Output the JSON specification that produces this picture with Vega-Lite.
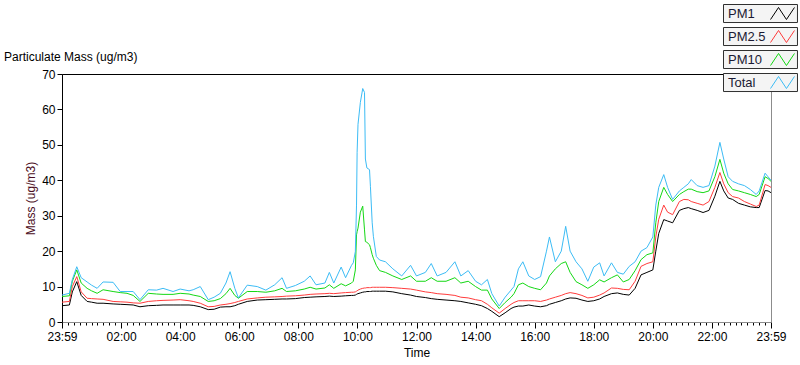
{
  "$schema": "https://vega.github.io/schema/vega-lite/v6.json",
  "autosize": "none",
  "width": 709,
  "height": 248,
  "padding": {"left": 62, "top": 74, "right": 29, "bottom": 43},
  "background": "#ffffff",
  "title": {"text": "Particulate Mass (ug/m3)", "anchor": "start", "frame": "group", "dx": -58, "offset": 0, "dy": 60, "fontSize": 12, "fontWeight": "normal", "font": "Liberation Sans", "color": "#000000"},
  "data": {"values": [
    {"t":0.0,"PM1":4.6,"PM25":5.6,"PM10":7.2,"Total":7.6},
    {"t":0.25,"PM1":4.8,"PM25":5.8,"PM10":7.4,"Total":8.1},
    {"t":0.35,"PM1":8.5,"PM25":10.0,"PM10":11.5,"Total":12.0},
    {"t":0.5,"PM1":11.4,"PM25":12.8,"PM10":14.7,"Total":15.6},
    {"t":0.65,"PM1":7.5,"PM25":8.5,"PM10":11.0,"Total":12.5},
    {"t":0.85,"PM1":5.8,"PM25":6.7,"PM10":9.5,"Total":11.3},
    {"t":1.0,"PM1":5.6,"PM25":6.6,"PM10":8.8,"Total":10.4},
    {"t":1.19,"PM1":5.3,"PM25":6.5,"PM10":8.1,"Total":9.5},
    {"t":1.39,"PM1":5.3,"PM25":6.4,"PM10":9.1,"Total":11.3},
    {"t":1.73,"PM1":5.1,"PM25":5.8,"PM10":8.6,"Total":11.2},
    {"t":1.97,"PM1":5.0,"PM25":5.7,"PM10":8.3,"Total":8.6},
    {"t":2.2,"PM1":4.9,"PM25":5.6,"PM10":8.1,"Total":8.6},
    {"t":2.41,"PM1":4.8,"PM25":5.4,"PM10":7.5,"Total":8.6},
    {"t":2.64,"PM1":4.3,"PM25":5.3,"PM10":5.8,"Total":6.3},
    {"t":2.92,"PM1":4.6,"PM25":5.8,"PM10":8.1,"Total":9.1},
    {"t":3.2,"PM1":4.7,"PM25":6.0,"PM10":7.9,"Total":9.0},
    {"t":3.42,"PM1":4.8,"PM25":6.1,"PM10":7.8,"Total":9.5},
    {"t":3.76,"PM1":4.8,"PM25":6.2,"PM10":7.8,"Total":8.6},
    {"t":4.0,"PM1":4.8,"PM25":6.3,"PM10":8.1,"Total":9.3},
    {"t":4.3,"PM1":4.8,"PM25":6.0,"PM10":7.9,"Total":8.8},
    {"t":4.44,"PM1":4.7,"PM25":5.8,"PM10":7.6,"Total":9.1},
    {"t":4.68,"PM1":4.3,"PM25":5.3,"PM10":7.2,"Total":10.0},
    {"t":4.95,"PM1":3.5,"PM25":4.3,"PM10":5.8,"Total":6.3},
    {"t":5.15,"PM1":3.6,"PM25":4.4,"PM10":6.0,"Total":7.0},
    {"t":5.36,"PM1":4.2,"PM25":4.8,"PM10":6.6,"Total":8.1},
    {"t":5.55,"PM1":4.3,"PM25":5.0,"PM10":8.0,"Total":11.0},
    {"t":5.69,"PM1":4.3,"PM25":5.2,"PM10":9.5,"Total":14.2},
    {"t":5.85,"PM1":4.6,"PM25":5.5,"PM10":7.5,"Total":9.5},
    {"t":5.97,"PM1":5.0,"PM25":5.8,"PM10":6.7,"Total":6.8},
    {"t":6.27,"PM1":5.8,"PM25":6.5,"PM10":8.6,"Total":10.4},
    {"t":6.61,"PM1":6.2,"PM25":6.8,"PM10":8.6,"Total":10.0},
    {"t":6.9,"PM1":6.3,"PM25":7.0,"PM10":8.4,"Total":9.0},
    {"t":7.2,"PM1":6.4,"PM25":7.1,"PM10":8.8,"Total":10.5},
    {"t":7.45,"PM1":6.5,"PM25":7.2,"PM10":9.5,"Total":12.5},
    {"t":7.6,"PM1":6.5,"PM25":7.3,"PM10":8.6,"Total":9.5},
    {"t":7.9,"PM1":6.6,"PM25":7.4,"PM10":8.8,"Total":10.3},
    {"t":8.2,"PM1":6.9,"PM25":7.6,"PM10":9.3,"Total":11.5},
    {"t":8.4,"PM1":7.0,"PM25":7.8,"PM10":9.8,"Total":13.0},
    {"t":8.6,"PM1":7.1,"PM25":7.9,"PM10":9.3,"Total":10.5},
    {"t":8.9,"PM1":7.2,"PM25":8.0,"PM10":9.6,"Total":11.0},
    {"t":9.05,"PM1":7.3,"PM25":8.1,"PM10":10.5,"Total":14.0},
    {"t":9.2,"PM1":7.2,"PM25":8.0,"PM10":9.5,"Total":11.0},
    {"t":9.45,"PM1":7.3,"PM25":8.2,"PM10":10.8,"Total":15.5},
    {"t":9.6,"PM1":7.4,"PM25":8.3,"PM10":10.2,"Total":12.5},
    {"t":9.8,"PM1":7.5,"PM25":8.4,"PM10":11.0,"Total":16.0},
    {"t":9.86,"PM1":7.5,"PM25":8.4,"PM10":11.5,"Total":16.7},
    {"t":9.93,"PM1":7.6,"PM25":8.5,"PM10":14.7,"Total":19.9},
    {"t":9.97,"PM1":7.8,"PM25":8.7,"PM10":24.6,"Total":33.0},
    {"t":9.99,"PM1":7.9,"PM25":8.8,"PM10":25.5,"Total":47.9},
    {"t":10.02,"PM1":8.0,"PM25":9.0,"PM10":26.5,"Total":55.8},
    {"t":10.1,"PM1":8.2,"PM25":9.3,"PM10":31.0,"Total":62.0},
    {"t":10.18,"PM1":8.4,"PM25":9.5,"PM10":32.7,"Total":65.9},
    {"t":10.24,"PM1":8.5,"PM25":9.6,"PM10":26.0,"Total":64.8},
    {"t":10.27,"PM1":8.5,"PM25":9.6,"PM10":22.7,"Total":46.0},
    {"t":10.32,"PM1":8.6,"PM25":9.7,"PM10":22.5,"Total":43.5},
    {"t":10.41,"PM1":8.6,"PM25":9.7,"PM10":21.8,"Total":43.0},
    {"t":10.44,"PM1":8.6,"PM25":9.7,"PM10":21.0,"Total":38.3},
    {"t":10.5,"PM1":8.7,"PM25":9.8,"PM10":19.0,"Total":28.0},
    {"t":10.54,"PM1":8.7,"PM25":9.8,"PM10":18.0,"Total":24.2},
    {"t":10.64,"PM1":8.7,"PM25":9.8,"PM10":16.0,"Total":18.5},
    {"t":10.75,"PM1":8.7,"PM25":9.8,"PM10":14.5,"Total":17.5},
    {"t":10.95,"PM1":8.7,"PM25":9.8,"PM10":14.0,"Total":17.0},
    {"t":11.2,"PM1":8.5,"PM25":9.7,"PM10":13.0,"Total":15.0},
    {"t":11.5,"PM1":8.0,"PM25":9.5,"PM10":12.0,"Total":13.0},
    {"t":11.8,"PM1":7.6,"PM25":9.3,"PM10":13.0,"Total":16.0},
    {"t":12.0,"PM1":7.2,"PM25":9.0,"PM10":11.5,"Total":13.0},
    {"t":12.3,"PM1":6.9,"PM25":8.5,"PM10":11.5,"Total":14.0},
    {"t":12.5,"PM1":6.6,"PM25":8.3,"PM10":12.5,"Total":16.5},
    {"t":12.7,"PM1":6.4,"PM25":8.0,"PM10":11.5,"Total":13.0},
    {"t":13.0,"PM1":6.2,"PM25":7.8,"PM10":11.5,"Total":14.0},
    {"t":13.3,"PM1":6.0,"PM25":7.5,"PM10":12.5,"Total":17.0},
    {"t":13.5,"PM1":5.8,"PM25":7.0,"PM10":11.0,"Total":13.0},
    {"t":13.75,"PM1":5.4,"PM25":6.8,"PM10":11.5,"Total":14.5},
    {"t":14.0,"PM1":5.0,"PM25":6.3,"PM10":10.0,"Total":11.5},
    {"t":14.2,"PM1":4.6,"PM25":6.0,"PM10":9.0,"Total":10.5},
    {"t":14.4,"PM1":3.8,"PM25":5.0,"PM10":9.0,"Total":12.0},
    {"t":14.55,"PM1":3.0,"PM25":4.0,"PM10":6.5,"Total":8.0},
    {"t":14.8,"PM1":1.5,"PM25":2.5,"PM10":3.8,"Total":4.5},
    {"t":15.0,"PM1":2.6,"PM25":3.8,"PM10":5.5,"Total":7.0},
    {"t":15.2,"PM1":3.8,"PM25":5.0,"PM10":7.0,"Total":9.0},
    {"t":15.3,"PM1":4.2,"PM25":5.5,"PM10":8.0,"Total":10.0},
    {"t":15.45,"PM1":4.5,"PM25":6.0,"PM10":10.5,"Total":15.0},
    {"t":15.6,"PM1":4.5,"PM25":6.0,"PM10":11.0,"Total":17.0},
    {"t":15.8,"PM1":4.8,"PM25":6.0,"PM10":10.0,"Total":13.0},
    {"t":16.0,"PM1":4.5,"PM25":6.0,"PM10":9.5,"Total":12.0},
    {"t":16.2,"PM1":4.3,"PM25":5.8,"PM10":9.1,"Total":12.8},
    {"t":16.4,"PM1":4.6,"PM25":6.2,"PM10":11.0,"Total":20.0},
    {"t":16.5,"PM1":5.0,"PM25":6.5,"PM10":13.0,"Total":24.0},
    {"t":16.7,"PM1":5.5,"PM25":7.0,"PM10":15.0,"Total":17.0},
    {"t":16.9,"PM1":6.0,"PM25":7.5,"PM10":16.5,"Total":20.0},
    {"t":17.05,"PM1":6.5,"PM25":8.0,"PM10":17.0,"Total":27.0},
    {"t":17.2,"PM1":6.8,"PM25":8.3,"PM10":14.0,"Total":20.0},
    {"t":17.4,"PM1":6.7,"PM25":8.0,"PM10":11.4,"Total":17.0},
    {"t":17.6,"PM1":6.2,"PM25":7.5,"PM10":10.5,"Total":15.0},
    {"t":17.8,"PM1":5.8,"PM25":6.8,"PM10":9.5,"Total":11.5},
    {"t":18.0,"PM1":6.0,"PM25":7.0,"PM10":10.5,"Total":15.5},
    {"t":18.2,"PM1":6.5,"PM25":7.6,"PM10":11.9,"Total":16.7},
    {"t":18.35,"PM1":7.2,"PM25":8.2,"PM10":11.3,"Total":13.0},
    {"t":18.6,"PM1":8.0,"PM25":9.6,"PM10":12.5,"Total":16.7},
    {"t":18.8,"PM1":8.2,"PM25":9.5,"PM10":13.3,"Total":14.0},
    {"t":19.0,"PM1":7.8,"PM25":9.2,"PM10":11.3,"Total":13.5},
    {"t":19.2,"PM1":7.6,"PM25":9.1,"PM10":12.0,"Total":15.7},
    {"t":19.4,"PM1":9.5,"PM25":11.5,"PM10":14.5,"Total":17.0},
    {"t":19.6,"PM1":13.3,"PM25":15.7,"PM10":17.6,"Total":20.0},
    {"t":19.8,"PM1":14.0,"PM25":16.5,"PM10":19.0,"Total":21.0},
    {"t":20.0,"PM1":14.7,"PM25":17.0,"PM10":19.5,"Total":24.0},
    {"t":20.1,"PM1":20.0,"PM25":24.0,"PM10":28.0,"Total":33.0},
    {"t":20.2,"PM1":25.0,"PM25":29.0,"PM10":34.0,"Total":38.0},
    {"t":20.37,"PM1":28.9,"PM25":33.0,"PM10":38.0,"Total":41.6},
    {"t":20.5,"PM1":28.5,"PM25":31.0,"PM10":36.0,"Total":38.0},
    {"t":20.67,"PM1":28.0,"PM25":30.3,"PM10":34.0,"Total":34.6},
    {"t":20.9,"PM1":31.5,"PM25":34.0,"PM10":36.0,"Total":37.0},
    {"t":21.05,"PM1":32.0,"PM25":34.6,"PM10":36.8,"Total":38.0},
    {"t":21.2,"PM1":32.3,"PM25":34.5,"PM10":37.5,"Total":39.0},
    {"t":21.3,"PM1":32.0,"PM25":34.0,"PM10":37.5,"Total":40.2},
    {"t":21.5,"PM1":31.5,"PM25":33.5,"PM10":36.8,"Total":38.5},
    {"t":21.7,"PM1":30.9,"PM25":33.0,"PM10":36.5,"Total":38.0},
    {"t":21.9,"PM1":31.5,"PM25":34.0,"PM10":37.0,"Total":38.5},
    {"t":22.1,"PM1":35.5,"PM25":38.0,"PM10":41.0,"Total":44.0},
    {"t":22.27,"PM1":39.7,"PM25":42.2,"PM10":45.9,"Total":50.7},
    {"t":22.4,"PM1":37.0,"PM25":39.0,"PM10":42.0,"Total":46.0},
    {"t":22.55,"PM1":35.0,"PM25":36.5,"PM10":39.0,"Total":41.0},
    {"t":22.7,"PM1":34.6,"PM25":35.4,"PM10":37.4,"Total":39.7},
    {"t":22.9,"PM1":33.5,"PM25":35.0,"PM10":37.0,"Total":39.0},
    {"t":23.1,"PM1":33.0,"PM25":34.0,"PM10":36.5,"Total":38.5},
    {"t":23.3,"PM1":32.5,"PM25":33.3,"PM10":36.0,"Total":37.4},
    {"t":23.5,"PM1":32.3,"PM25":32.6,"PM10":35.4,"Total":36.0},
    {"t":23.6,"PM1":32.3,"PM25":33.0,"PM10":36.0,"Total":37.0},
    {"t":23.8,"PM1":37.1,"PM25":38.8,"PM10":41.0,"Total":42.0},
    {"t":23.9,"PM1":37.0,"PM25":38.5,"PM10":40.5,"Total":41.0},
    {"t":24.0,"PM1":36.5,"PM25":38.0,"PM10":39.7,"Total":40.0}
  ]},
  "transform": [{"fold": ["PM1", "PM25", "PM10", "Total"], "as": ["series", "value"]}],
  "resolve": {"axis": {"x": "independent"}},
  "layer": [
    {
      "mark": {"type": "line", "strokeWidth": 1, "interpolate": "linear"},
      "encoding": {
        "x": {
          "field": "t", "type": "quantitative",
          "scale": {"domain": [0, 24], "nice": false, "zero": false},
          "axis": {
            "orient": "bottom",
            "title": "Time",
            "values": [0,0.2,0.4,0.6,0.8,1,1.2,1.4,1.6,1.8,2,2.2,2.4,2.6,2.8,3,3.2,3.4,3.6,3.8,4,4.2,4.4,4.6,4.8,5,5.2,5.4,5.6,5.8,6,6.2,6.4,6.6,6.8,7,7.2,7.4,7.6,7.8,8,8.2,8.4,8.6,8.8,9,9.2,9.4,9.6,9.8,10,10.2,10.4,10.6,10.8,11,11.2,11.4,11.6,11.8,12,12.2,12.4,12.6,12.8,13,13.2,13.4,13.6,13.8,14,14.2,14.4,14.6,14.8,15,15.2,15.4,15.6,15.8,16,16.2,16.4,16.6,16.8,17,17.2,17.4,17.6,17.8,18,18.2,18.4,18.6,18.8,19,19.2,19.4,19.6,19.8,20,20.2,20.4,20.6,20.8,21,21.2,21.4,21.6,21.8,22,22.2,22.4,22.6,22.8,23,23.2,23.4,23.6,23.8,24],
            "labelExpr": "(datum.value == 0 || datum.value == 24) ? '23:59' : (datum.value % 2 == 0 ? ((datum.value < 10 ? '0' : '') + datum.value + ':00') : '')",
            "tickSize": {"condition": {"test": "datum.value % 2 == 0", "value": 6}, "value": 3},
            "tickColor": "#000000",
            "domainColor": "#8c8c8c",
            "grid": false,
            "labelOverlap": false,
            "labelFlush": false,
            "labelBound": false,
            "labelPadding": 3,
            "titlePadding": 5
          }
        },
        "y": {
          "field": "value", "type": "quantitative",
          "scale": {"domain": [0, 70], "nice": false},
          "axis": {
            "title": "Mass (ug/m3)",
            "values": [0, 10, 20, 30, 40, 50, 60, 70],
            "tickSize": 5,
            "tickColor": "#000000",
            "domainColor": "#000000",
            "grid": false,
            "labelPadding": 2,
            "titlePadding": 4,
            "titleColor": "#4b0d22"
          }
        },
        "color": {
          "field": "series", "type": "nominal",
          "scale": {"domain": ["PM1", "PM25", "PM10", "Total"], "range": ["#000000", "#ff3c3c", "#14d814", "#3cbcf5"]},
          "legend": {
            "orient": "none",
            "legendX": 661,
            "legendY": -70,
            "title": null,
            "direction": "vertical",
            "padding": 0,
            "symbolType": "M-1.33,0.67L-0.44,-0.67L0.44,0.67L1.33,-0.67",
            "symbolSize": 324,
            "symbolStrokeWidth": 1,
            "symbolFillColor": "transparent",
            "symbolOffset": 50,
            "labelOffset": -64,
            "labelAlign": "left",
            "labelFontSize": 13,
            "labelFont": "Liberation Sans",
            "labelColor": "#1a1a33",
            "rowPadding": 4,
            "labelExpr": "datum.label == 'PM25' ? 'PM2.5' : datum.label",
            "encode": {
              "entries": {"update": {"width": {"value": 74}, "height": {"value": 18}, "fill": {"value": "#f4f4f4"}, "stroke": {"value": "#303030"}, "strokeWidth": {"value": 1}}}
            }
          }
        }
      }
    },
    {
      "mark": {"type": "rule", "opacity": 0},
      "encoding": {
        "x": {
          "field": "t", "type": "quantitative",
          "scale": {"domain": [0, 24], "nice": false, "zero": false},
          "axis": {"orient": "top", "title": null, "labels": false, "ticks": false, "domainColor": "#000000", "grid": false}
        }
      }
    }
  ],
  "config": {
    "font": "Liberation Sans",
    "view": {"stroke": "#8c8c8c", "strokeWidth": 1},
    "axis": {"labelFont": "Liberation Sans", "labelFontSize": 12, "labelColor": "#000000", "titleFont": "Liberation Sans", "titleFontSize": 12, "titleFontWeight": "normal", "titleColor": "#000000", "domainWidth": 1, "tickWidth": 1}
  }
}
